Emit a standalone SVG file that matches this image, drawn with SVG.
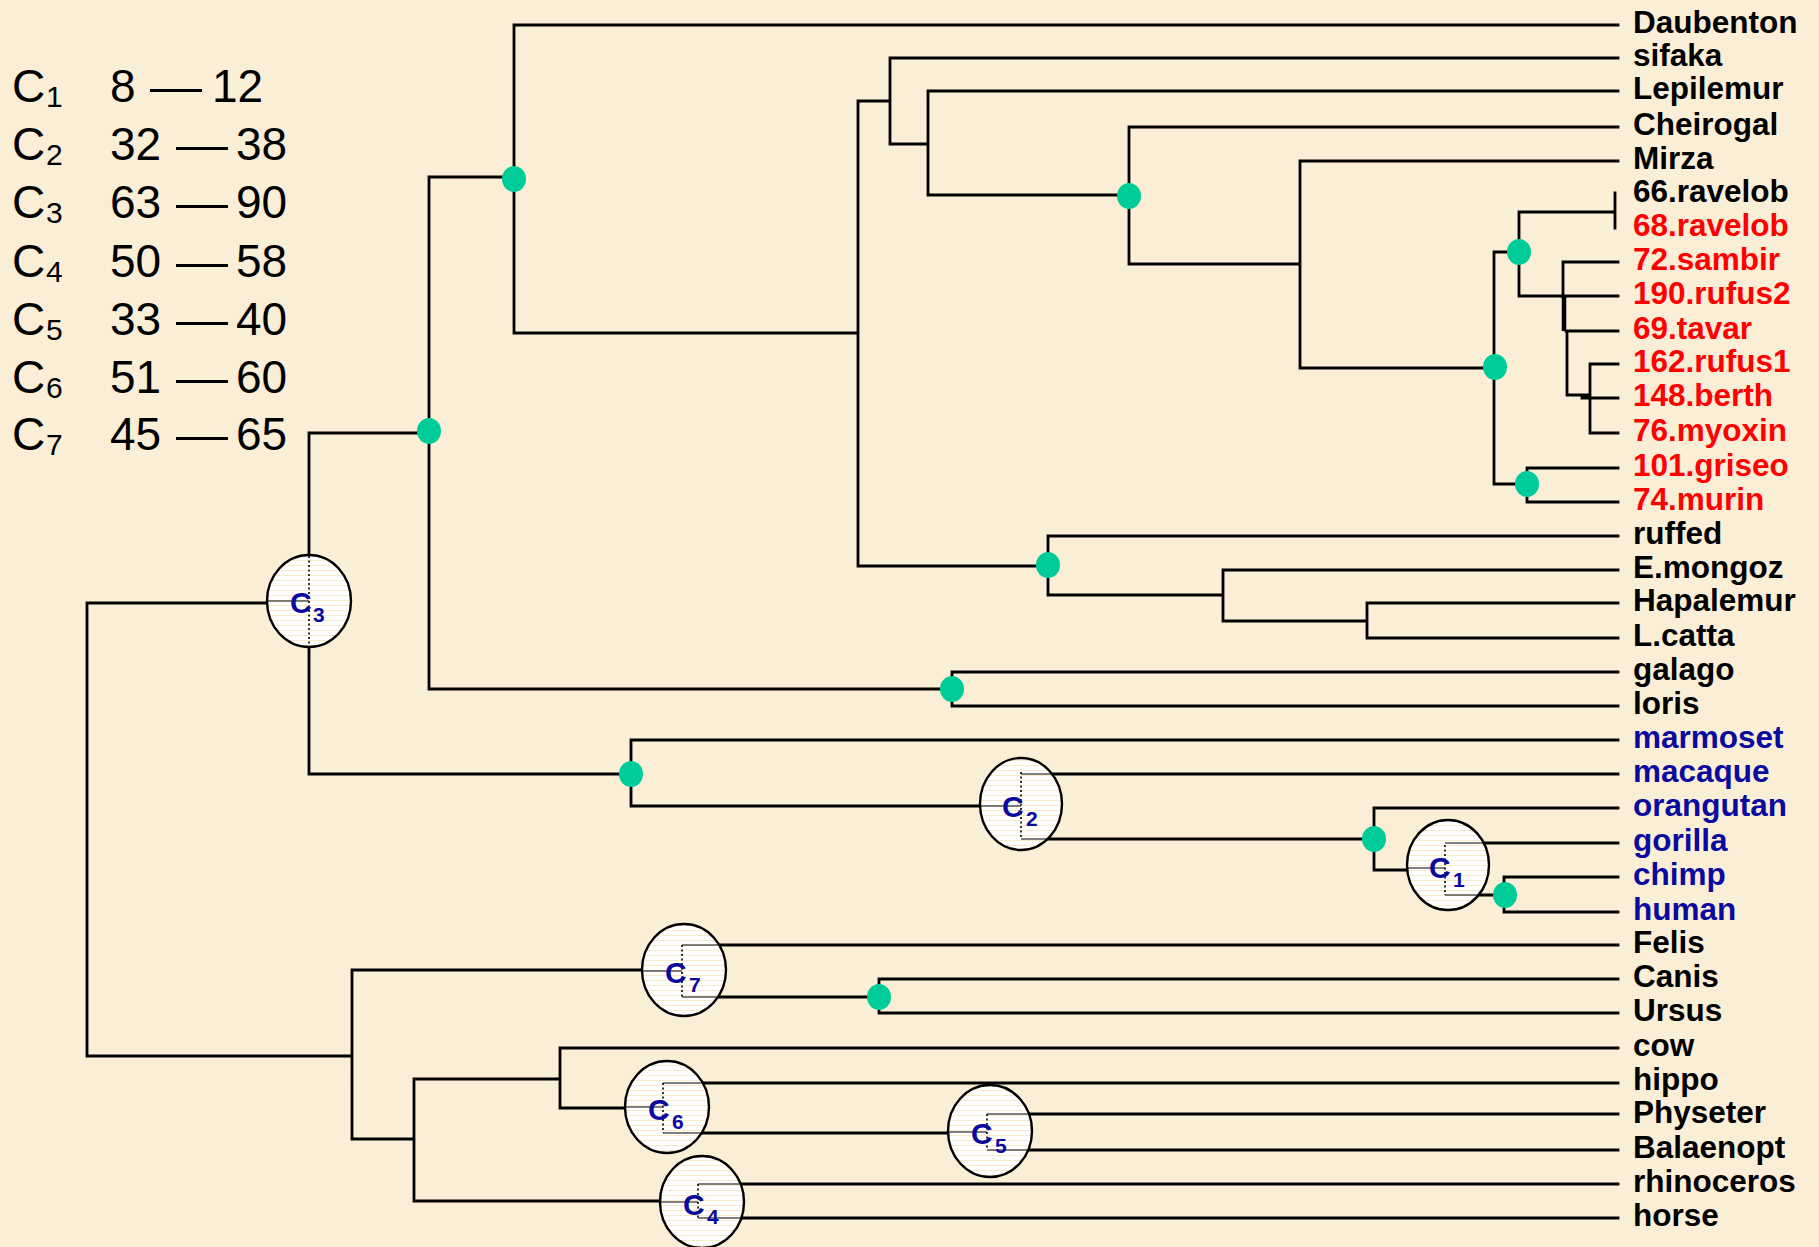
<svg xmlns="http://www.w3.org/2000/svg" width="1819" height="1247" viewBox="0 0 1819 1247">
<defs>
<pattern id="stripes" patternUnits="userSpaceOnUse" width="10" height="5">
<rect width="10" height="5" fill="#FFFFFF"/>
<rect y="0" width="10" height="1" fill="#F7EACB"/>
</pattern>
<style>
.bg{fill:#FAEED7}
.br{fill:none;stroke:#000;stroke-width:2.8;stroke-linecap:square}
.thick{fill:none;stroke:#000;stroke-width:4.5}
.thin{fill:none;stroke:#000;stroke-width:1.2}
.dot{fill:none;stroke:#000;stroke-width:1.6;stroke-dasharray:2 2.5}
.cn{fill:url(#stripes);stroke:#000;stroke-width:2.4}
.gd{fill:#00CC99}
.leaf{font-family:"Liberation Sans",Arial,sans-serif;font-weight:bold;font-size:31.5px}
.k{fill:#000}
.r{fill:#FF0000}
.b{fill:#0A0A9E}
.lg{font-family:"Liberation Sans",Arial,sans-serif;font-size:46px;fill:#000}
.sub{font-size:30px}
.cl{font-family:"Liberation Sans",Arial,sans-serif;font-weight:bold;font-size:30px;fill:#0A0A9E}
.cs{font-size:21px}
</style>
</defs>
<rect class="bg" x="0" y="0" width="1819" height="1247"/>

<g id="legend">
<text class="lg" x="12" y="102">C<tspan class="sub" x="46" y="107">1</tspan></text>
<text class="lg" x="110" y="102">8</text><text class="lg" x="150" y="102" textLength="52" lengthAdjust="spacingAndGlyphs">—</text><text class="lg" x="212" y="102">12</text>
<text class="lg" x="12" y="160">C<tspan class="sub" x="46" y="165">2</tspan></text>
<text class="lg" x="110" y="160">32</text><text class="lg" x="176" y="160" textLength="52" lengthAdjust="spacingAndGlyphs">—</text><text class="lg" x="236" y="160">38</text>
<text class="lg" x="12" y="218">C<tspan class="sub" x="46" y="223">3</tspan></text>
<text class="lg" x="110" y="218">63</text><text class="lg" x="176" y="218" textLength="52" lengthAdjust="spacingAndGlyphs">—</text><text class="lg" x="236" y="218">90</text>
<text class="lg" x="12" y="277">C<tspan class="sub" x="46" y="282">4</tspan></text>
<text class="lg" x="110" y="277">50</text><text class="lg" x="176" y="277" textLength="52" lengthAdjust="spacingAndGlyphs">—</text><text class="lg" x="236" y="277">58</text>
<text class="lg" x="12" y="335">C<tspan class="sub" x="46" y="340">5</tspan></text>
<text class="lg" x="110" y="335">33</text><text class="lg" x="176" y="335" textLength="52" lengthAdjust="spacingAndGlyphs">—</text><text class="lg" x="236" y="335">40</text>
<text class="lg" x="12" y="393">C<tspan class="sub" x="46" y="398">6</tspan></text>
<text class="lg" x="110" y="393">51</text><text class="lg" x="176" y="393" textLength="52" lengthAdjust="spacingAndGlyphs">—</text><text class="lg" x="236" y="393">60</text>
<text class="lg" x="12" y="450">C<tspan class="sub" x="46" y="455">7</tspan></text>
<text class="lg" x="110" y="450">45</text><text class="lg" x="176" y="450" textLength="52" lengthAdjust="spacingAndGlyphs">—</text><text class="lg" x="236" y="450">65</text>
</g>

<g id="connectors">
<path class="br" d="M87,603 V1056 M87,603 H309 M87,1056 H352
M309,433 V774 M309,433 H429 M309,774 H631
M429,177 V689 M429,177 H514 M429,689 H952
M514,25 V333 M514,25 H1618 M514,333 H858
M858,101 V566 M858,101 H890 M858,566 H1048
M890,58 V144 M890,58 H1618 M890,144 H928
M928,91 V195 M928,91 H1618 M928,195 H1129
M1129,127 V264 M1129,127 H1618 M1129,264 H1300
M1300,161 V368 M1300,161 H1618 M1300,368 H1494
M1494,252 V484 M1494,252 H1519 M1494,484 H1527
M1519,212 V296 M1519,212 H1615 M1615,193 V228 M1519,296 H1618
M1563,262 V297 M1563,262 H1618
M1566,331 H1618 M1567,331 V395 M1567,395 H1590
M1590,364 V433 M1590,364 H1618 M1582,398 H1618 M1590,433 H1618
M1527,468 V502 M1527,468 H1618 M1527,502 H1618
M1048,536 V595 M1048,536 H1618 M1048,595 H1223
M1223,570 V621 M1223,570 H1618 M1223,621 H1367
M1367,603 V638 M1367,603 H1618 M1367,638 H1618
M952,672 V706 M952,672 H1618 M952,706 H1618
M631,740 V805 M631,740 H1618 M631,806 H1021
M1021,774 H1618 M1021,839 H1374
M1374,808 V870 M1374,808 H1618 M1374,870 H1447
M1445,843 H1618 M1445,895 H1504
M1504,877 V912 M1504,877 H1618 M1504,912 H1618
M352,970 V1139 M352,970 H684 M352,1139 H414
M682,945 H1618 M682,997 H879
M879,979 V1013 M879,979 H1618 M879,1013 H1618
M414,1079 V1201 M414,1079 H560 M414,1201 H702
M560,1048 V1108 M560,1048 H1618 M560,1108 H667
M663,1083 H1618 M663,1133 H990
M987,1114 H1618 M987,1150 H1618
M698,1184 H1618 M698,1218 H1618"/>
<path class="thick" d="M1564,297 V331"/>
</g>

<g id="C3"><ellipse class="cn" cx="309" cy="601" rx="42" ry="46"/><path class="thin" d="M267,601 H309"/><path class="dot" d="M309,556 V647"/><text class="cl" x="290" y="613">C<tspan class="cs" x="313" y="622">3</tspan></text></g>
<g id="C2"><ellipse class="cn" cx="1021" cy="804" rx="41" ry="46"/><path class="thin" d="M980,806 H1021 M1021,774 H1060 M1021,839 H1060"/><path class="dot" d="M1021,772 V839"/><text class="cl" x="1002" y="817">C<tspan class="cs" x="1026" y="826">2</tspan></text></g>
<g id="C1"><ellipse class="cn" cx="1448" cy="865" rx="41" ry="45"/><path class="thin" d="M1407,868 H1445 M1445,843 H1487 M1445,895 H1487"/><path class="dot" d="M1445,845 V895"/><text class="cl" x="1429" y="878">C<tspan class="cs" x="1453" y="887">1</tspan></text></g>
<g id="C7"><ellipse class="cn" cx="684" cy="970" rx="42" ry="46"/><path class="thin" d="M642,971 H682 M682,945 H726 M682,997 H726"/><path class="dot" d="M682,945 V997"/><text class="cl" x="665" y="983">C<tspan class="cs" x="689" y="992">7</tspan></text></g>
<g id="C6"><ellipse class="cn" cx="667" cy="1107" rx="42" ry="46"/><path class="thin" d="M625,1107 H663 M663,1083 H709 M663,1133 H709"/><path class="dot" d="M663,1083 V1133"/><text class="cl" x="648" y="1120">C<tspan class="cs" x="672" y="1129">6</tspan></text></g>
<g id="C5"><ellipse class="cn" cx="990" cy="1131" rx="42" ry="46"/><path class="thin" d="M948,1132 H987 M987,1114 H1032 M987,1150 H1032"/><path class="dot" d="M987,1114 V1150"/><text class="cl" x="971" y="1144">C<tspan class="cs" x="995" y="1153">5</tspan></text></g>
<g id="C4"><ellipse class="cn" cx="702" cy="1202" rx="42" ry="46"/><path class="thin" d="M660,1202 H698 M698,1184 H744 M698,1218 H744"/><path class="dot" d="M698,1184 V1220"/><text class="cl" x="683" y="1215">C<tspan class="cs" x="707" y="1224">4</tspan></text></g>

<g id="dots">
<ellipse class="gd" cx="429" cy="431" rx="12" ry="13"/>
<ellipse class="gd" cx="514" cy="179" rx="12" ry="13"/>
<ellipse class="gd" cx="1129" cy="196" rx="12" ry="13"/>
<ellipse class="gd" cx="1519" cy="252" rx="12" ry="13"/>
<ellipse class="gd" cx="1495" cy="367" rx="12" ry="13"/>
<ellipse class="gd" cx="1527" cy="484" rx="12" ry="13"/>
<ellipse class="gd" cx="1048" cy="565" rx="12" ry="13"/>
<ellipse class="gd" cx="952" cy="689" rx="12" ry="13"/>
<ellipse class="gd" cx="631" cy="774" rx="12" ry="13"/>
<ellipse class="gd" cx="1374" cy="839" rx="12" ry="13"/>
<ellipse class="gd" cx="1505" cy="895" rx="12" ry="13"/>
<ellipse class="gd" cx="879" cy="997" rx="12" ry="13"/>
</g>

<g id="leaves" class="leaf">
<text class="k" x="1633" y="33">Daubenton</text>
<text class="k" x="1633" y="66">sifaka</text>
<text class="k" x="1633" y="99">Lepilemur</text>
<text class="k" x="1633" y="135">Cheirogal</text>
<text class="k" x="1633" y="169">Mirza</text>
<text class="k" x="1633" y="202">66.ravelob</text>
<text class="r" x="1633" y="236">68.ravelob</text>
<text class="r" x="1633" y="270">72.sambir</text>
<text class="r" x="1633" y="304">190.rufus2</text>
<text class="r" x="1633" y="339">69.tavar</text>
<text class="r" x="1633" y="372">162.rufus1</text>
<text class="r" x="1633" y="406">148.berth</text>
<text class="r" x="1633" y="441">76.myoxin</text>
<text class="r" x="1633" y="476">101.griseo</text>
<text class="r" x="1633" y="510">74.murin</text>
<text class="k" x="1633" y="544">ruffed</text>
<text class="k" x="1633" y="578">E.mongoz</text>
<text class="k" x="1633" y="611">Hapalemur</text>
<text class="k" x="1633" y="646">L.catta</text>
<text class="k" x="1633" y="680">galago</text>
<text class="k" x="1633" y="714">loris</text>
<text class="b" x="1633" y="748">marmoset</text>
<text class="b" x="1633" y="782">macaque</text>
<text class="b" x="1633" y="816">orangutan</text>
<text class="b" x="1633" y="851">gorilla</text>
<text class="b" x="1633" y="885">chimp</text>
<text class="b" x="1633" y="920">human</text>
<text class="k" x="1633" y="953">Felis</text>
<text class="k" x="1633" y="987">Canis</text>
<text class="k" x="1633" y="1021">Ursus</text>
<text class="k" x="1633" y="1056">cow</text>
<text class="k" x="1633" y="1090">hippo</text>
<text class="k" x="1633" y="1123">Physeter</text>
<text class="k" x="1633" y="1158">Balaenopt</text>
<text class="k" x="1633" y="1192">rhinoceros</text>
<text class="k" x="1633" y="1226">horse</text>
</g>
</svg>
